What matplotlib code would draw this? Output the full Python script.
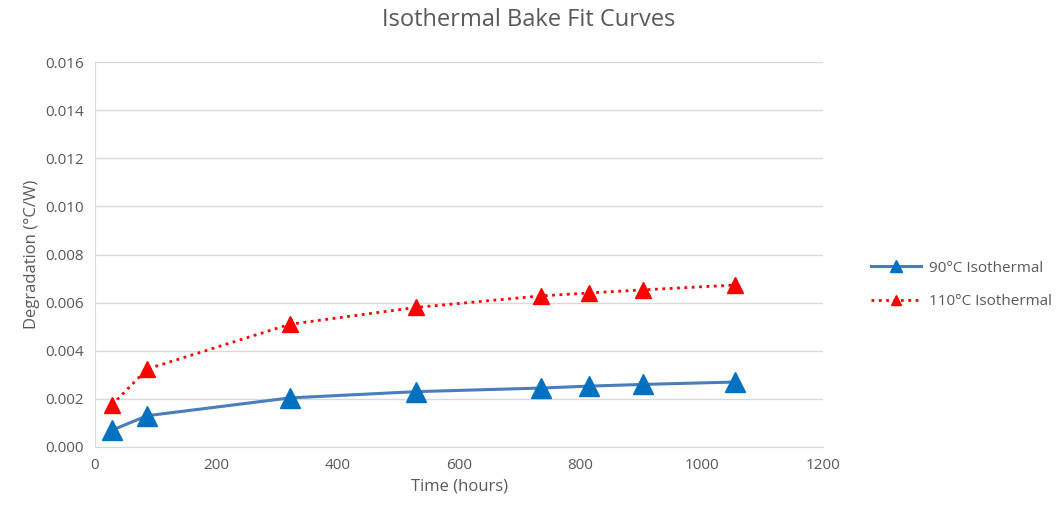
import matplotlib.pyplot as plt
from matplotlib.ticker import FormatStrFormatter

hours = [28, 86, 321, 529, 735, 814, 903, 1055]
deg_90 = [0.00070, 0.00130, 0.00204, 0.00230, 0.00245, 0.00253, 0.00260, 0.00270]
deg_110 = [0.00175, 0.00324, 0.00510, 0.00580, 0.00628, 0.00640, 0.00653, 0.00673]
labels = ["90°C Isothermal", "110°C Isothermal"]

plt.rcParams['font.family'] = ['Open Sans', 'DejaVu Sans']
text_color = '#595959'

fig = plt.figure(figsize=(10.62, 5.12), dpi=100)
ax = fig.add_axes([95/1062, 1-447/512, (823-95)/1062, (447-62)/512])

ax.plot(hours, deg_90, color='#4a7ebb', lw=2.2, marker='^', markersize=14,
        markerfacecolor='#0070c0', markeredgecolor='#0070c0', label=labels[0])
ax.plot(hours, deg_110, color='#ff0000', lw=2, ls=':', marker='^', markersize=12,
        markerfacecolor='#ff0000', markeredgecolor='#ff0000', label=labels[1])

ax.set_xlim(0, 1200)
ax.set_ylim(0, 0.016)
ax.set_xticks(range(0, 1201, 200))
ax.set_yticks([i * 0.002 for i in range(9)])
ax.yaxis.set_major_formatter(FormatStrFormatter('%.3f'))
ax.grid(axis='y', color='#d9d9d9', lw=1)
ax.set_axisbelow(True)
for s in ['top', 'right']:
    ax.spines[s].set_visible(False)
for s in ['left', 'bottom']:
    ax.spines[s].set_color('#d9d9d9')
ax.tick_params(length=0, colors=text_color, labelsize=11, pad=8)

ax.set_xlabel("Time (hours)", color=text_color, fontsize=12)
ax.set_ylabel("Degradation (°C/W)", color=text_color, fontsize=12)
fig.text(529/1062, 1 - 20/512, "Isothermal Bake Fit Curves",
         ha='center', va='center', color=text_color, fontsize=17)

leg = fig.legend(loc='center left', bbox_to_anchor=(871/1062, 1 - 285/512), frameon=False,
                 fontsize=11, labelspacing=1.2, handlelength=3.3, handletextpad=0.5,
                 borderpad=0, borderaxespad=0, markerscale=0.6)
for t in leg.get_texts():
    t.set_color(text_color)

plt.savefig("out.png", dpi=100)
